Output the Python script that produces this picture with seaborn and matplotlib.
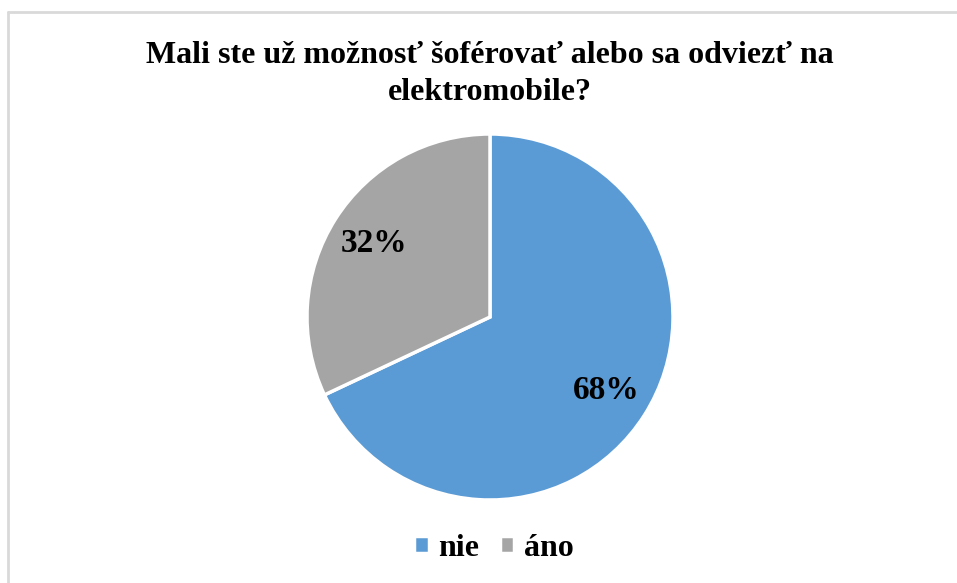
import matplotlib
matplotlib.use("Agg")
import matplotlib.pyplot as plt
import seaborn as sns
from matplotlib.lines import Line2D

# data
labels = ['nie', 'áno']
values = [68, 32]
colors = ['#5B9BD5', '#A5A5A5']
title = "Mali ste už možnosť šoférovať alebo sa odviezť na\nelektromobile?"

sns.set_theme(style="white")
plt.rcParams['font.family'] = ['Liberation Serif', 'DejaVu Serif']

fig = plt.figure(figsize=(9.57, 5.83), dpi=100)
W, H = 957, 583
cx, cy, r = 490, 317, 183
ax = fig.add_axes([(cx - r) / W, (H - cy - r) / H, 2 * r / W, 2 * r / H])

wedges, texts, autotexts = ax.pie(
    values, colors=colors, startangle=90, counterclock=False,
    autopct='%1.0f%%', pctdistance=0.75,
    wedgeprops=dict(edgecolor='white', linewidth=2.5),
    textprops=dict(fontsize=24, fontweight='bold', color='black'))
ax.set_xlim(-1, 1)
ax.set_ylim(-1, 1)
ax.set_aspect('equal')

fig.text(cx / W, 1 - 74 / H, title, ha='center', va='center', color='black',
         fontsize=23, fontweight='bold', linespacing=1.32)

fig.legend(wedges, labels, loc='center', bbox_to_anchor=(494 / W, 1 - 548 / H),
           ncol=2, frameon=False, handlelength=0.45, handleheight=0.45,
           handletextpad=0.3, columnspacing=0.65, labelcolor='black',
           prop=dict(size=23, weight='bold'))

# partial frame seen in the screenshot
fig.add_artist(Line2D([8 / W, 1], [1 - 12 / H, 1 - 12 / H], color='#D9D9D9', lw=2))
fig.add_artist(Line2D([8 / W, 8 / W], [0, 1 - 12 / H], color='#D9D9D9', lw=2))

fig.savefig('out.png', dpi=100, facecolor='white')
